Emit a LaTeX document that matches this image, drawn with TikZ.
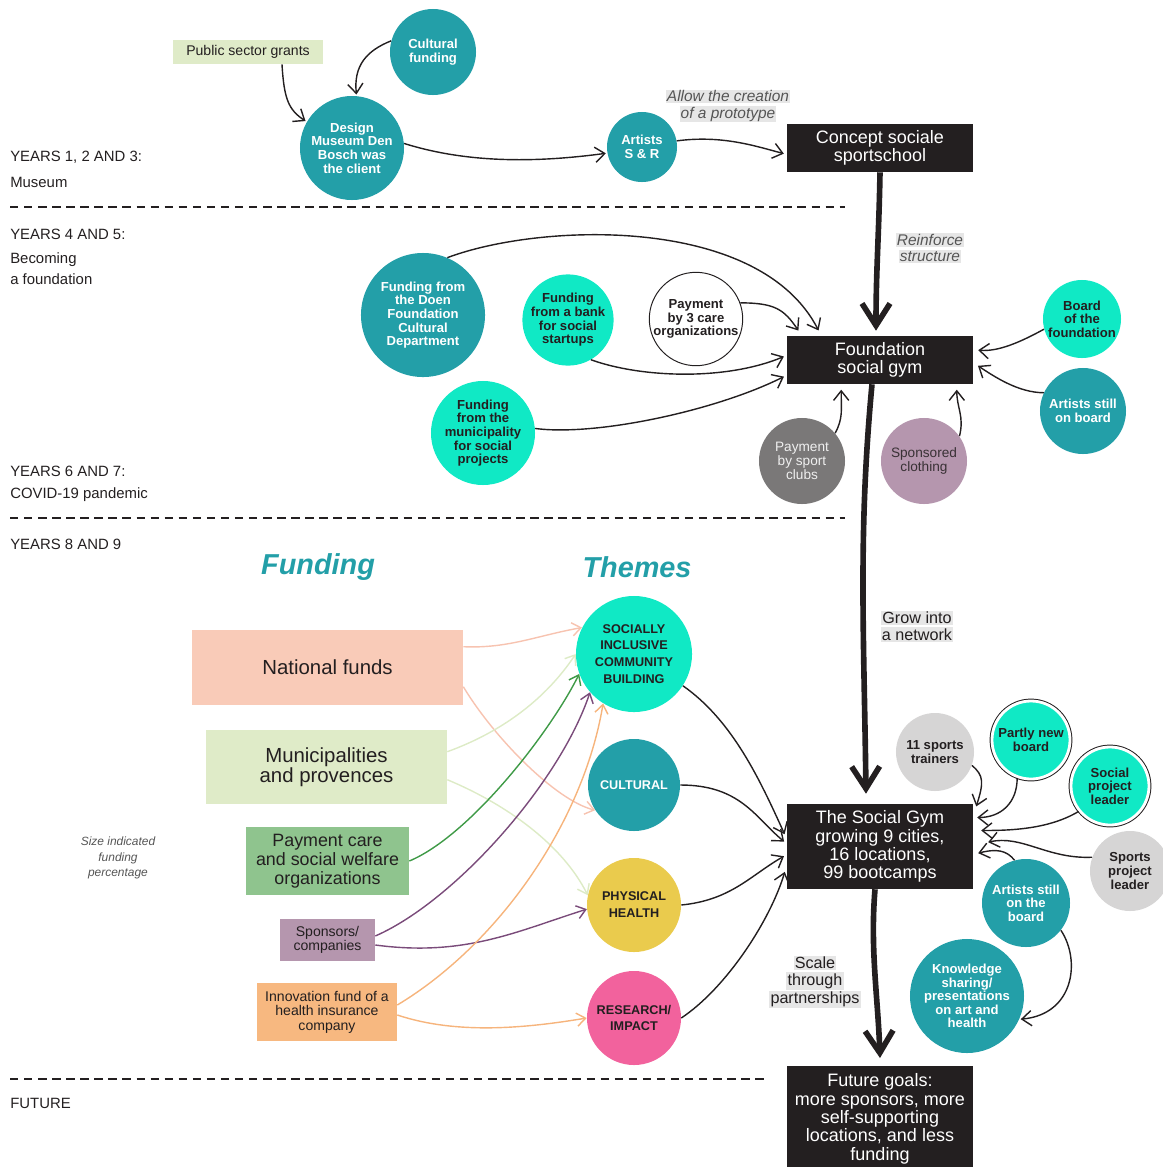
\documentclass[tikz,border=0pt]{standalone}
\usepackage{fontspec}
\setmainfont{Liberation Sans}
\usetikzlibrary{arrows.meta,calc,positioning}

\definecolor{inkblack}{HTML}{231F20}
\definecolor{deepteal}{HTML}{239FA8}
\definecolor{mint}{HTML}{10E9C5}
\definecolor{clubgrey}{HTML}{7A7878}
\definecolor{mauve}{HTML}{B596AE}
\definecolor{palegrey}{HTML}{D6D5D5}
\definecolor{sunyellow}{HTML}{EACB4D}
\definecolor{hotpink}{HTML}{F2629D}
\definecolor{salmon}{HTML}{F9CBB8}
\definecolor{palegreen}{HTML}{DFEBC8}
\definecolor{leafgreen}{HTML}{8FC48E}
\definecolor{apricot}{HTML}{F7B880}
\definecolor{tagbg}{HTML}{E6E6E6}
\definecolor{tagtext}{HTML}{555555}
\definecolor{arrowgreen}{HTML}{3F9A47}
\definecolor{arrowplum}{HTML}{7A4B7A}
\definecolor{arrowsalmon}{HTML}{F7C3B0}
\definecolor{arrowlime}{HTML}{DDEBC6}
\definecolor{arroworange}{HTML}{F6B47C}

\newcommand{\taghl}[1]{{\setlength{\fboxsep}{0.8pt}\colorbox{tagbg}{#1}}}

\tikzset{
  bubble/.style={circle, inner sep=0pt, align=center,
    font=\bfseries\fontsize{9.3}{9.7}\selectfont},
  themebubble/.style={circle, inner sep=0pt, align=center, text=inkblack,
    minimum size=2.35cm, font=\bfseries\fontsize{9}{12}\selectfont},
  gymbox/.style={fill=inkblack, text=white, align=center, inner sep=0pt,
    minimum width=4.625cm, font=\fontsize{12.8}{13}\selectfont},
  fundbox/.style={align=center, inner sep=0pt, text=inkblack},
  ringed/.style={preaction={draw=inkblack, line width=3.4pt}, draw=white, line width=2pt},
  phase/.style={anchor=west, inner sep=0pt, text=inkblack, align=left,
    font=\fontsize{10.6}{15}\selectfont},
  tag/.style={inner sep=0pt, align=center, text=tagtext,
    font=\itshape\fontsize{11}{11.5}\selectfont},
  arr/.style={draw=inkblack, line width=1pt, shorten >=1pt,
    -{Straight Barb[length=2.4mm,width=3.8mm]}},
  trunk/.style={draw=inkblack, line width=4pt,
    -{Straight Barb[length=5.5mm,width=7mm]}},
  feed/.style={line width=1pt, -{Straight Barb[length=2.2mm,width=3.3mm]}},
  divider/.style={draw=inkblack, line width=1pt, dash pattern=on 6pt off 4pt},
}

\begin{document}
\begin{tikzpicture}[x=0.025cm, y=-0.025cm]
    \useasboundingbox (0,0) rectangle (1163,1167);

    % Phases
    \node (yr1) [phase] at (10,157) {YEARS 1, 2 AND 3:};
    \node (yr1b) [phase] at (10,182) {Museum};
    \draw[divider] (10,207) -- (845,207);
    \node (yr4) [phase] at (10,234) {YEARS 4 AND 5:};
    \node (yr4b) [phase] at (10,269) {Becoming\\a foundation};
    \node (yr6) [phase] at (10,471) {YEARS 6 AND 7:};
    \node (yr6b) [phase] at (10,495) {COVID-19 pandemic};
    \draw[divider] (10,518) -- (845,518);
    \node (yr8) [phase] at (10,544) {YEARS 8 AND 9};
    \draw[divider] (10,1079) -- (768,1079);
    \node (fut) [phase] at (10,1103) {FUTURE};

    % Nodes, years 1-3
    \node (grants) [fundbox, fill=palegreen, minimum width=3.75cm, minimum height=0.6cm,
        font=\fontsize{10}{11}\selectfont] at (248,52) {Public sector grants};
    \node (cultfund) [bubble, fill=deepteal, text=white, minimum size=2.15cm] at (433,52) {Cultural\\funding};
    \node (museum) [bubble, fill=deepteal, text=white, minimum size=2.6cm] at (352,148) {Design\\Museum Den\\Bosch was\\the client};
    \node (artists) [bubble, fill=deepteal, text=white, minimum size=1.75cm] at (642,147) {Artists\\S \& R};
    \node (concept) [gymbox, minimum height=1.2cm] at (880,148) {Concept sociale\\sportschool};
    \node (prototype) [tag] at (728,106) {\taghl{Allow the creation}\\\taghl{of a prototype}};

    % Nodes, years 4-7
    \node (found) [gymbox, minimum height=1.2cm] at (880,360) {Foundation\\social gym};
    \node (reinforce) [tag] at (930,248) {\taghl{Reinforce}\\\taghl{structure}};
    \node (doen) [bubble, fill=deepteal, text=white, minimum size=3.1cm] at (423,315) {Funding from\\the Doen\\Foundation\\Cultural\\Department};
    \node (bank) [bubble, fill=mint, text=inkblack, minimum size=2.15cm] at (568,320) {Funding\\from a bank\\for social\\startups};
    \node (care) [bubble, draw=inkblack, line width=0.7pt, fill=white, text=inkblack, minimum size=2.25cm] at (696,319) {Payment\\by 3 care\\organizations};
    \node (municip) [bubble, fill=mint, text=inkblack, minimum size=2.6cm] at (483,433) {Funding\\from the\\municipality\\for social\\projects};
    \node (clubs) [bubble, fill=clubgrey, text=white!88!clubgrey, minimum size=2.15cm,
        font=\fontsize{9.7}{10}\selectfont] at (802,461) {Payment\\by sport\\clubs};
    \node (clothing) [bubble, fill=mauve, text=inkblack!85!mauve, minimum size=2.15cm,
        font=\fontsize{9.7}{10}\selectfont] at (924,461) {Sponsored\\clothing};
    \node (board) [bubble, fill=mint, text=inkblack, minimum size=1.95cm] at (1082,319) {Board\\of the\\foundation};
    \node (stillboard) [bubble, fill=deepteal, text=white, minimum size=2.15cm] at (1083,411) {Artists still\\on board};

    % Nodes, years 8-9
    \node (fundtitle) [text=deepteal, font=\bfseries\itshape\fontsize{20.5}{22}\selectfont] at (318,567) {Funding};
    \node (themetitle) [text=deepteal, font=\bfseries\itshape\fontsize{20.5}{22}\selectfont] at (637,567) {Themes};
    \node (national) [fundbox, fill=salmon, minimum width=6.775cm, minimum height=1.875cm,
        font=\fontsize{14.5}{15}\selectfont] at (327.5,667.5) {National funds};
    \node (regional) [fundbox, fill=palegreen, minimum width=6.025cm, minimum height=1.85cm,
        font=\fontsize{14.5}{14.3}\selectfont] at (326.5,767) {Municipalities\\and provences};
    \node (carepay) [fundbox, fill=leafgreen, minimum width=4.075cm, minimum height=1.7cm,
        font=\fontsize{12.7}{13.5}\selectfont] at (327.5,861) {Payment care\\and social welfare\\organizations};
    \node (sponsors) [fundbox, fill=mauve, minimum width=2.375cm, minimum height=1.05cm,
        font=\fontsize{10}{10}\selectfont] at (327.5,940) {Sponsors/\\companies};
    \node (insurer) [fundbox, fill=apricot, minimum width=3.5cm, minimum height=1.45cm,
        font=\fontsize{10}{10.3}\selectfont] at (327,1012) {Innovation fund of a\\health insurance\\company};
    \node (sizenote) [align=center, text=tagtext, font=\itshape\fontsize{8.5}{11.3}\selectfont] at (118,858) {Size indicated\\funding\\percentage};

    \node (inclusive) [themebubble, fill=mint, minimum size=2.9cm] at (634,654) {SOCIALLY\\INCLUSIVE\\COMMUNITY\\BUILDING};
    \node (cultural) [themebubble, fill=deepteal, text=white, minimum size=2.3cm] at (634,785) {CULTURAL};
    \node (physical) [themebubble, fill=sunyellow] at (634,905) {PHYSICAL\\HEALTH};
    \node (research) [themebubble, fill=hotpink] at (634,1018) {RESEARCH/\\IMPACT};

    \node (gym) [gymbox, minimum height=2.125cm] at (880,846.5) {The Social Gym\\growing 9 cities,\\16 locations,\\99 bootcamps};
    \node (network) [tag, text=inkblack, font=\fontsize{11.5}{12}\selectfont] at (917,626) {\taghl{Grow into}\\\taghl{a network}};
    \node (trainers) [bubble, fill=palegrey, text=inkblack, minimum size=1.95cm] at (935,752) {11 sports\\trainers};
    \node (newboard) [bubble, fill=mint, text=inkblack, ringed, minimum size=1.95cm] at (1031,740) {Partly new\\board};
    \node (socleader) [bubble, fill=mint, text=inkblack, ringed, minimum size=1.95cm] at (1110,786) {Social\\project\\leader};
    \node (sportleader) [bubble, fill=palegrey, text=inkblack, minimum size=2cm] at (1130,871) {Sports\\project\\leader};
    \node (artboard) [bubble, fill=deepteal, text=white, minimum size=2.2cm] at (1026,903) {Artists still\\on the\\board};
    \node (knowledge) [bubble, fill=deepteal, text=white, minimum size=2.85cm] at (967,996) {Knowledge\\sharing/\\presentations\\on art and\\health};
    \node (scale) [tag, text=inkblack, font=\fontsize{11.5}{12}\selectfont] at (815,982) {\taghl{Scale}\\\taghl{through}\\\taghl{partnerships}};

    % Future
    \node (future) [gymbox, anchor=north, minimum height=2.625cm] at (880,1066) {Future goals:\\more sponsors, more\\self-supporting\\locations, and less\\funding};

    % Edges, years 1-3
    \draw[arr] ($(grants.south)+(34,0)$) .. controls +(2,35) and +(-18,-12) .. (museum.150);
    \draw[arr] (cultfund.165) .. controls +(-25,10) and +(-3,-30) .. (museum.85);
    \draw[arr] (museum.5) .. controls +(70,22) and +(-60,8) .. (artists.190);
    \draw[arr] (artists.10) .. controls +(45,-6) and +(-30,-8) .. ($(concept.west)+(-2,6)$);

    % Trunk
    \draw[trunk] (concept.south) .. controls +(-1,60) and +(0,-60) .. ($(found.north)+(-4,-5)$);
    \draw[trunk] ($(found.south)+(-8,0)$) .. controls +(-14,150) and +(-2,-160) .. ($(gym.north)+(-14,-10)$);
    \draw[trunk] ($(gym.south)+(-5,0)$) .. controls +(-5,60) and +(-2,-60) .. ($(future.north)+(0,-8)$);

    % Edges, years 4-7
    \draw[arr] (doen.67) .. controls +(93,-35) and +(-60,-117) .. ($(found.north west)+(32,-4)$);
    \draw[arr] (care.20) .. controls +(35,0) and +(-15,-22) .. ($(found.north west)+(12,-4)$);
    \draw[arr] (bank.-60) .. controls +(50,18) and +(-60,25) .. ($(found.west)+(-2,-4)$);
    \draw[arr] (municip.5) .. controls +(60,8) and +(-70,35) .. ($(found.west)+(-2,16)$);
    \draw[arr] (clubs.40) .. controls +(8,-15) and +(0,22) .. ($(found.south west)+(54,4)$);
    \draw[arr] (clothing.35) .. controls +(5,-20) and +(0,20) .. ($(found.south east)+(-16,4)$);
    \draw[arr] (board.195) .. controls +(-22,12) and +(22,2) .. ($(found.east)+(4,-10)$);
    \draw[arr] (stillboard.155) .. controls +(-25,0) and +(18,12) .. ($(found.east)+(4,5)$);

    % Edges, funding to themes
    \draw[feed, arrowsalmon] ($(national.north east)+(0,17)$) .. controls +(45,2) and +(-45,8) .. (inclusive.153);
    \draw[feed, arrowsalmon] ($(national.north east)+(0,57)$) .. controls +(30,50) and +(-40,-10) .. (cultural.213);
    \draw[feed, arrowlime] ($(regional.north east)+(0,22)$) .. controls +(55,-20) and +(-30,45) .. (inclusive.180);
    \draw[feed, arrowlime] ($(regional.north east)+(0,50)$) .. controls +(60,25) and +(-25,-50) .. (physical.168);
    \draw[feed, arrowgreen] (carepay.east) .. controls +(60,-25) and +(-30,60) .. (inclusive.200);
    \draw[feed, arrowplum] ($(sponsors.east)+(0,-4)$) .. controls +(80,-35) and +(-30,90) .. (inclusive.221);
    \draw[feed, arrowplum] ($(sponsors.east)+(0,5)$) .. controls +(90,12) and +(-70,22) .. (physical.185);
    \draw[feed, arroworange] ($(insurer.east)+(0,-7)$) .. controls +(100,-60) and +(-20,120) .. (inclusive.238);
    \draw[feed, arroworange] ($(insurer.east)+(0,3)$) .. controls +(60,20) and +(-60,10) .. (research.180);

    % Edges, themes to gym
    \draw[arr] (inclusive.-33) .. controls +(50,35) and +(-25,-55) .. ($(gym.west)+(-2,-11)$);
    \draw[arr] (cultural.east) .. controls +(60,0) and +(-30,-25) .. ($(gym.west)+(-2,-4)$);
    \draw[arr] (physical.east) .. controls +(50,-5) and +(-35,20) .. ($(gym.west)+(-2,9)$);
    \draw[arr] (research.east) .. controls +(45,-30) and +(-15,50) .. ($(gym.west)+(-2,24)$);

    % Edges, network
    \draw[arr] (trainers.-20) .. controls +(12,10) and +(8,-25) .. ($(gym.north east)+(3,4)$);
    \draw[arr] (newboard.250) .. controls +(0,25) and +(25,0) .. ($(gym.east)+(3,-29)$);
    \draw[arr] (socleader.219) .. controls +(-30,18) and +(30,0) .. ($(gym.east)+(7,-16)$);
    \draw[arr] (sportleader.160) .. controls +(-45,2) and +(35,-8) .. ($(gym.east)+(14,-4)$);
    \draw[arr] (artboard.105) .. controls +(-8,-10) and +(20,-5) .. ($(gym.east)+(4,7)$);
    \draw[arr] (artboard.-38) .. controls +(20,30) and +(55,-5) .. (knowledge.-24);
\end{tikzpicture}
\end{document}
